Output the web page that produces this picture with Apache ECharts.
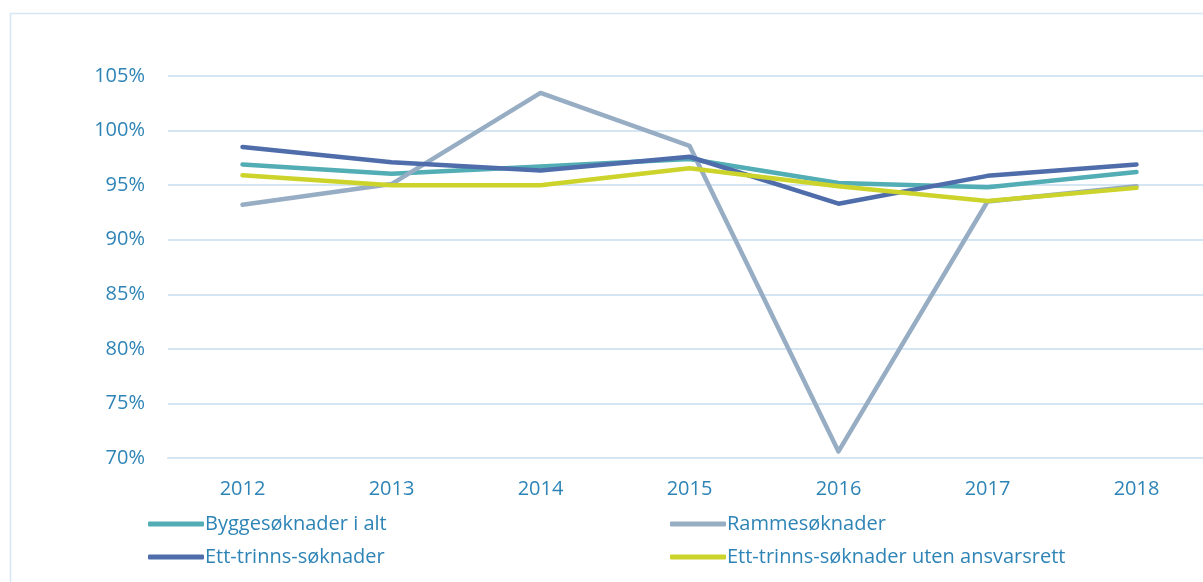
<!DOCTYPE html>
<html>
<head>
<meta charset="utf-8">
<script src="https://cdn.jsdelivr.net/npm/echarts@6/dist/echarts.min.js"></script>
<style>
  html, body { margin: 0; padding: 0; background: #fff; }
  #main { width: 1203px; height: 582px; }
</style>
</head>
<body>
<div id="main"></div>
<script>
// år og andeler (prosent)
var years = ['2012', '2013', '2014', '2015', '2016', '2017', '2018'];
var byggesoknader = [96.9, 96.05, 96.7, 97.4, 95.2, 94.8, 96.2];
var rammesoknader = [93.2, 95.1, 103.45, 98.6, 70.6, 93.5, 94.9];
var ettTrinns = [98.5, 97.1, 96.35, 97.6, 93.3, 95.85, 96.9];
var ettTrinnsUten = [95.9, 95.0, 95.0, 96.55, 94.9, 93.55, 94.75];
var seriesNames = ['Byggesøknader i alt', 'Rammesøknader', 'Ett-trinns-søknader', 'Ett-trinns-søknader uten ansvarsrett'];

var textColor = '#2E84B6';
var font = 'Open Sans';
var colors = ['#52ADB5', '#97ADC4', '#4E6DAA', '#CCD32A'];

var chartDom = document.getElementById('main');
var myChart = echarts.init(chartDom);

function lineSeries(name, data, color) {
  return {
    name: name,
    type: 'line',
    data: data,
    showSymbol: false,
    symbol: 'none',
    lineStyle: { color: color, width: 4.5, cap: 'round', join: 'round' },
    itemStyle: { color: color },
    animation: false
  };
}

function legendAt(name, left, top) {
  return {
    data: [name],
    left: left,
    top: top,
    icon: 'roundRect',
    itemWidth: 56,
    itemHeight: 5,
    itemGap: 5,
    textStyle: { color: textColor, fontFamily: font, fontSize: 20, padding: [0, 0, 0, -4] }
  };
}

var option = {
  backgroundColor: '#ffffff',
  graphic: [{
    type: 'rect',
    shape: { x: 10.5, y: 13.5, width: 1400, height: 800 },
    style: { fill: 'none', stroke: '#D5E6F4', lineWidth: 1.5 },
    silent: true
  }],
  legend: [
    legendAt(seriesNames[0], 143, 509),
    legendAt(seriesNames[1], 665, 509),
    legendAt(seriesNames[2], 143, 542),
    legendAt(seriesNames[3], 665, 542)
  ],
  grid: { left: 168, width: 1043, top: 76, bottom: 124, containLabel: false, outerBoundsMode: 'none' },
  xAxis: {
    type: 'category',
    data: years,
    boundaryGap: true,
    axisLine: { show: true, lineStyle: { color: '#D4E6F4', width: 2 } },
    axisTick: { show: false },
    axisLabel: { color: textColor, fontFamily: font, fontSize: 20, margin: 21 }
  },
  yAxis: {
    type: 'value',
    min: 70,
    max: 105,
    interval: 5,
    axisLine: { show: false },
    axisTick: { show: false },
    splitLine: { lineStyle: { color: '#D4E6F4', width: 2 } },
    axisLabel: {
      color: textColor, fontFamily: font, fontSize: 20, margin: 23,
      formatter: function (v) { return v + '%'; }
    }
  },
  series: [
    lineSeries(seriesNames[0], byggesoknader, colors[0]),
    lineSeries(seriesNames[1], rammesoknader, colors[1]),
    lineSeries(seriesNames[2], ettTrinns, colors[2]),
    lineSeries(seriesNames[3], ettTrinnsUten, colors[3])
  ]
};

myChart.setOption(option);
</script>
</body>
</html>
